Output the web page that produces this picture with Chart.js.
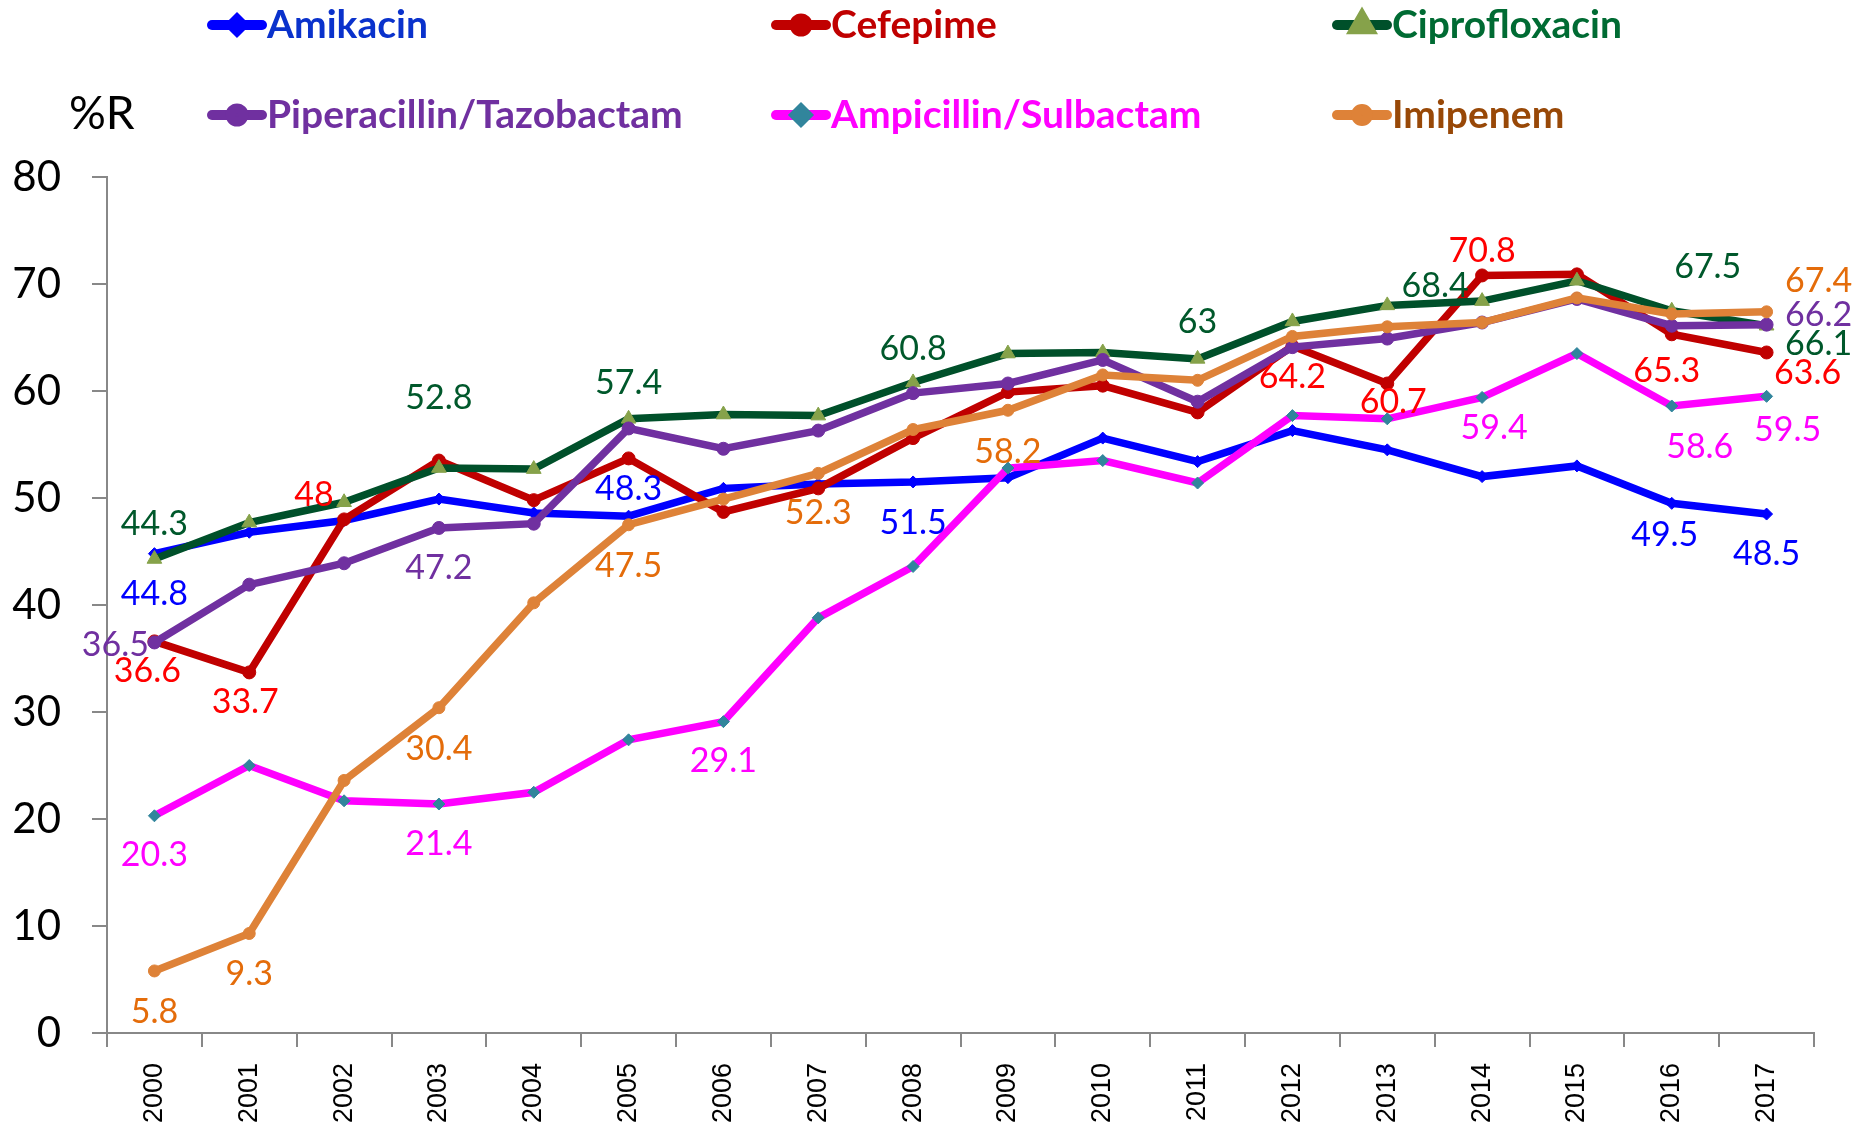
<!DOCTYPE html>
<html lang="en">
<head>
    <meta charset="UTF-8">
    <title>%R 2000-2017</title>
    <script src="https://cdn.jsdelivr.net/npm/chart.js"></script>
    <style>
        html, body { margin: 0; padding: 0; background: #fff; }
        #wrap { width: 1863px; height: 1127px; position: relative; }
    </style>
</head>
<body>
<div id="wrap"><canvas id="resChart" width="1863" height="1127"></canvas></div>
<script>
    // data
    const years = ['2000', '2001', '2002', '2003', '2004', '2005', '2006', '2007', '2008',
                   '2009', '2010', '2011', '2012', '2013', '2014', '2015', '2016', '2017'];
    const amikacin  = [44.8, 46.8, 47.9, 49.9, 48.6, 48.3, 50.9, 51.3, 51.5, 51.9, 55.6, 53.4, 56.3, 54.5, 52.0, 53.0, 49.5, 48.5];
    const cefepime  = [36.6, 33.7, 48, 53.5, 49.8, 53.7, 48.7, 50.9, 55.6, 59.9, 60.5, 58.0, 64.2, 60.7, 70.8, 70.9, 65.3, 63.6];
    const cipro     = [44.3, 47.7, 49.6, 52.8, 52.7, 57.4, 57.8, 57.7, 60.8, 63.5, 63.6, 63, 66.5, 68.0, 68.4, 70.3, 67.5, 66.1];
    const pipTazo   = [36.5, 41.9, 43.9, 47.2, 47.6, 56.5, 54.6, 56.3, 59.8, 60.7, 62.9, 59.0, 64.1, 64.9, 66.4, 68.6, 66.1, 66.2];
    const ampSulb   = [20.3, 25.0, 21.7, 21.4, 22.5, 27.4, 29.1, 38.8, 43.6, 52.8, 53.5, 51.4, 57.7, 57.4, 59.4, 63.5, 58.6, 59.5];
    const imipenem  = [5.8, 9.3, 23.6, 30.4, 40.2, 47.5, 49.9, 52.3, 56.4, 58.2, 61.5, 61.0, 65.1, 66.0, 66.4, 68.7, 67.2, 67.4];
    const yTicks = [0, 10, 20, 30, 40, 50, 60, 70, 80];

    // which points carry a value label, and where the label sits (px from the point)
    const amikacinLabels = [[0, 0, 40], [5, 0, -27], [8, 0, 41], [16, -7, 32], [17, 0, 40]];
    const cefepimeLabels = [[0, -7, 30], [1, -4, 30], [2, -30, -24], [12, 0, 31], [13, 6, 19], [14, 0, -24], [16, -5, 37], [17, 41, 21]];
    const ciproLabels    = [[0, 0, -35], [3, 0, -70], [5, 0, -36], [8, 0, -33], [11, 0, -37], [14, -47, -15], [16, 36, -44], [17, 52, 18]];
    const pipTazoLabels  = [[0, -39, 3], [3, 0, 40], [17, 52, -10]];
    const ampSulbLabels  = [[0, 0, 39], [3, 0, 40], [6, 0, 39], [14, 12, 31], [16, 28, 41], [17, 21, 34]];
    const imipenemLabels = [[0, 0, 41], [1, 0, 41], [3, 0, 41], [5, 0, 41], [7, 0, 40], [9, 0, 42], [17, 52, -31]];

    const series = [
        { name: 'Amikacin', data: amikacin, line: '#0000FF', point: '#0000FF', style: 'rectRot', r: 6,
          text: '#0000FF', legendText: '#0A32CC', labels: amikacinLabels, lx: 208, ly: 25 },
        { name: 'Cefepime', data: cefepime, line: '#C00000', point: '#C00000', style: 'circle', r: 6.5,
          text: '#FF0000', legendText: '#C00000', labels: cefepimeLabels, lx: 772, ly: 25 },
        { name: 'Ciprofloxacin', data: cipro, line: '#00502A', point: '#86A24A', style: 'triangle', r: 8.5,
          text: '#00582B', legendText: '#006B33', labels: ciproLabels, lx: 1333, ly: 25 },
        { name: 'Piperacillin/Tazobactam', data: pipTazo, line: '#7030A0', point: '#7030A0', style: 'circle', r: 6.5,
          text: '#7030A0', legendText: '#7030A0', labels: pipTazoLabels, lx: 208, ly: 115 },
        { name: 'Ampicillin/Sulbactam', data: ampSulb, line: '#FF00FF', point: '#31859C', style: 'rectRot', r: 6,
          text: '#FF00FF', legendText: '#FF00FF', labels: ampSulbLabels, lx: 772, ly: 115 },
        { name: 'Imipenem', data: imipenem, line: '#DE8238', point: '#DE8238', style: 'circle', r: 6,
          text: '#E46C0A', legendText: '#984807', labels: imipenemLabels, lx: 1333, ly: 115 }
    ];

    // value labels next to the points
    const valueLabels = {
        id: 'valueLabels',
        afterDatasetsDraw(chart) {
            const ctx = chart.ctx;
            ctx.save();
            ctx.font = '34px Lato';
            ctx.textAlign = 'center';
            ctx.textBaseline = 'middle';
            series.forEach((s, di) => {
                const meta = chart.getDatasetMeta(di);
                s.labels.forEach(([i, dx, dy]) => {
                    const pt = meta.data[i];
                    ctx.fillStyle = s.text;
                    ctx.fillText(String(s.data[i]), pt.x + dx, pt.y + dy);
                });
            });
            ctx.restore();
        }
    };

    // two-row legend and the %R title
    const topLegend = {
        id: 'topLegend',
        afterDraw(chart) {
            const ctx = chart.ctx;
            ctx.save();
            ctx.font = '46px Lato';
            ctx.fillStyle = '#000';
            ctx.textAlign = 'left';
            ctx.textBaseline = 'middle';
            ctx.fillText('%R', 69, 114);

            series.forEach(s => {
                ctx.strokeStyle = s.line;
                ctx.lineWidth = 10;
                ctx.lineCap = 'round';
                ctx.beginPath();
                ctx.moveTo(s.lx + 4, s.ly);
                ctx.lineTo(s.lx + 54, s.ly);
                ctx.stroke();
                ctx.fillStyle = s.point;
                ctx.strokeStyle = s.point;
                Chart.helpers.drawPoint(ctx, { pointStyle: s.style, radius: s.r, borderWidth: 1, rotation: 0 }, s.lx + 29, s.ly);

                ctx.font = 'bold 39px Lato';
                ctx.fillStyle = s.legendText;
                ctx.textBaseline = 'middle';
                ctx.fillText(s.name, s.lx + 59, s.ly);
            });
            ctx.restore();
        }
    };

    const resCtx = document.getElementById('resChart').getContext('2d');
    const resChart = new Chart(resCtx, {
        type: 'line',
        data: {
            labels: years,
            datasets: series.map((s, i) => ({
                label: s.name,
                data: s.data,
                borderColor: s.line,
                backgroundColor: s.point,
                borderWidth: 7.5,
                pointStyle: s.style,
                pointRadius: s.r,
                pointBackgroundColor: s.point,
                pointBorderColor: s.point,
                pointBorderWidth: 1,
                tension: 0,
                order: series.length - i
            }))
        },
        options: {
            responsive: false,
            animation: false,
            layout: { padding: { top: 177, right: 49, left: 0, bottom: 0 } },
            plugins: {
                legend: { display: false },
                tooltip: { enabled: false }
            },
            scales: {
                x: {
                    offset: true,
                    grid: {
                        offset: true,
                        drawOnChartArea: false,
                        drawTicks: true,
                        tickLength: 14,
                        color: '#888',
                        lineWidth: 2
                    },
                    border: { color: '#888', width: 2 },
                    ticks: {
                        minRotation: 90,
                        maxRotation: 90,
                        padding: 16,
                        color: '#000',
                        font: { family: 'Liberation Sans', size: 27 }
                    },
                    afterFit(scale) { scale.height = 94; }
                },
                y: {
                    min: yTicks[0],
                    max: yTicks[yTicks.length - 1],
                    afterBuildTicks(scale) { scale.ticks = yTicks.map(v => ({ value: v })); },
                    grid: {
                        drawOnChartArea: false,
                        drawTicks: true,
                        tickLength: 15,
                        color: '#888',
                        lineWidth: 2
                    },
                    border: { color: '#888', width: 2 },
                    ticks: {
                        padding: 31,
                        color: '#000',
                        font: { family: 'Lato', size: 42 }
                    },
                    afterFit(scale) { scale.width = 107; }
                }
            }
        },
        plugins: [valueLabels, topLegend]
    });
</script>
</body>
</html>
